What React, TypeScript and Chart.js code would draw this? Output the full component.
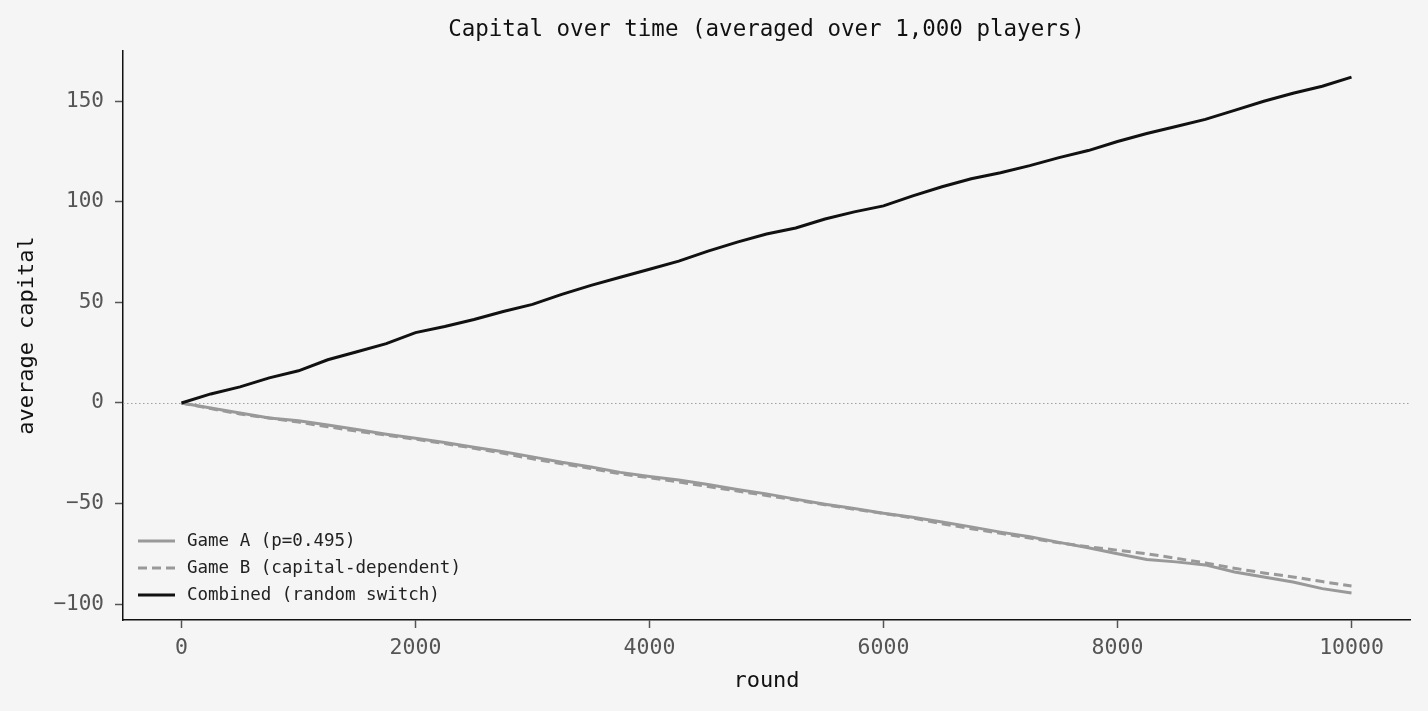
import React, { useEffect, useRef } from "react";
import { Chart, registerables } from "chart.js";

Chart.register(...registerables);

const chartTitle = "Capital over time (averaged over 1,000 players)";
const xTitle = "round";
const yTitle = "average capital";

const rounds = [
  0, 250, 500, 750, 1000, 1250, 1500, 1750, 2000, 2250, 2500, 2750, 3000, 3250,
  3500, 3750, 4000, 4250, 4500, 4750, 5000, 5250, 5500, 5750, 6000, 6250, 6500,
  6750, 7000, 7250, 7500, 7750, 8000, 8250, 8500, 8750, 9000, 9250, 9500, 9750,
  10000,
];

const gameA = [
  0, -2.5, -5.0, -7.5, -8.8, -11.0, -13.2, -15.5, -17.5, -19.6, -22.0, -24.2,
  -26.8, -29.5, -31.8, -34.5, -36.5, -38.3, -40.5, -43.0, -45.2, -47.8, -50.3,
  -52.5, -54.8, -56.8, -59.2, -61.6, -64.2, -66.5, -69.3, -72.0, -75.0, -77.8,
  -79.0, -80.5, -84.0, -86.5, -89.0, -92.3, -94.5,
];

const gameB = [
  0, -2.8, -5.5, -7.5, -9.5, -11.8, -14.0, -16.0, -18.0, -20.2, -22.5, -25.0,
  -27.8, -30.2, -32.6, -35.2, -37.2, -39.3, -41.5, -43.8, -46.0, -48.2, -50.6,
  -52.8, -54.9, -57.2, -60.0, -62.5, -64.8, -67.2, -69.5, -71.5, -73.2, -75.0,
  -77.2, -79.5, -82.2, -84.5, -86.5, -88.8, -91.0,
];

const combined = [
  0, 4.5, 8.0, 12.5, 16.0, 21.5, 25.5, 29.5, 35.0, 38.0, 41.5, 45.5, 49.0, 54.0,
  58.5, 62.5, 66.5, 70.5, 75.5, 80.0, 84.0, 87.0, 91.5, 95.0, 98.0, 103.0, 107.5,
  111.5, 114.5, 118.0, 122.0, 125.5, 130.0, 134.0, 137.5, 141.0, 145.5, 150.0,
  154.0, 157.5, 162.0,
];

const seriesLabels = [
  "Game A (p=0.495)",
  "Game B (capital-dependent)",
  "Combined (random switch)",
];

const xTicks = [0, 2000, 4000, 6000, 8000, 10000];
const yTicks = [-100, -50, 0, 50, 100, 150];

const FONT = "'DejaVu Sans Mono', monospace";

const zeroLinePlugin = {
  id: "zeroLine",
  beforeDatasetsDraw(chart: any) {
    const { ctx, chartArea, scales } = chart;
    const y = Math.round(scales.y.getPixelForValue(0)) + 0.5;
    ctx.save();
    ctx.strokeStyle = "#a0a0a0";
    ctx.lineWidth = 1.2;
    ctx.setLineDash([1.5, 2.5]);
    ctx.beginPath();
    ctx.moveTo(chartArea.left, y);
    ctx.lineTo(chartArea.right, y);
    ctx.stroke();
    ctx.restore();
  },
};

const innerLegendPlugin = {
  id: "innerLegend",
  afterDraw(chart: any) {
    const { ctx, chartArea } = chart;
    const x0 = chartArea.left + 15;
    const lineLen = 37;
    const textX = x0 + lineLen + 12;
    const rowH = 27;
    const n = chart.data.datasets.length;
    const baseY = chartArea.bottom - 25 - (n - 1) * rowH;
    ctx.save();
    ctx.font = `17.5px ${FONT}`;
    ctx.textBaseline = "middle";
    ctx.textAlign = "left";
    chart.data.datasets.forEach((ds: any, i: number) => {
      const y = baseY + i * rowH;
      ctx.strokeStyle = ds.borderColor;
      ctx.lineWidth = ds.borderWidth;
      ctx.setLineDash(ds.borderDash || []);
      ctx.beginPath();
      ctx.moveTo(x0, y);
      ctx.lineTo(x0 + lineLen, y);
      ctx.stroke();
      ctx.setLineDash([]);
      ctx.fillStyle = "#222222";
      ctx.fillText(ds.label, textX, y);
    });
    ctx.restore();
  },
};

export default function App() {
  const canvasRef = useRef<HTMLCanvasElement | null>(null);

  useEffect(() => {
    document.body.style.margin = "0";
    document.body.style.background = "#f5f5f5";
    const canvas = canvasRef.current;
    if (!canvas) return;
    const toPts = (vals: number[]) => rounds.map((r, i) => ({ x: r, y: vals[i] }));
    const chart = new Chart(canvas, {
      type: "line",
      data: {
        datasets: [
          {
            label: seriesLabels[0],
            data: toPts(gameA),
            borderColor: "#999999",
            borderWidth: 3,
            pointRadius: 0,
            tension: 0,
            order: 3,
          },
          {
            label: seriesLabels[1],
            data: toPts(gameB),
            borderColor: "#999999",
            borderWidth: 3,
            borderDash: [9, 5],
            pointRadius: 0,
            tension: 0,
            order: 2,
          },
          {
            label: seriesLabels[2],
            data: toPts(combined),
            borderColor: "#111111",
            borderWidth: 3,
            pointRadius: 0,
            tension: 0,
            order: 1,
          },
        ],
      },
      options: {
        animation: false,
        responsive: true,
        maintainAspectRatio: false,
        layout: { padding: { left: 0, right: 18, top: 0, bottom: 0 } },
        plugins: {
          legend: { display: false },
          tooltip: { enabled: false },
          title: {
            display: true,
            fullSize: false,
            text: chartTitle,
            color: "#111111",
            font: { family: FONT, size: 22.5, weight: "normal" },
            padding: { top: 17, bottom: 7 },
          },
        },
        scales: {
          x: {
            type: "linear",
            min: -500,
            max: 10500,
            afterFit: (s: any) => {
              s.height = 91;
            },
            afterBuildTicks: (s: any) => {
              s.ticks = xTicks.map((v) => ({ value: v }));
            },
            ticks: {
              color: "#555555",
              font: { family: FONT, size: 21.5 },
              padding: 8,
              maxRotation: 0,
              autoSkip: false,
              callback: (v: any) => String(v),
            },
            grid: {
              display: true,
              drawOnChartArea: false,
              drawTicks: true,
              tickLength: 8,
              tickWidth: 1.5,
              tickColor: "#555555",
            },
            border: { display: true, color: "#111111", width: 1.5 },
            title: {
              display: true,
              text: xTitle,
              color: "#111111",
              font: { family: FONT, size: 22 },
              padding: { top: 4, bottom: 17 },
            },
          },
          y: {
            type: "linear",
            min: -107.9,
            max: 175,
            afterFit: (s: any) => {
              s.width = 123;
            },
            afterBuildTicks: (s: any) => {
              s.ticks = yTicks.map((v) => ({ value: v }));
            },
            ticks: {
              color: "#555555",
              font: { family: FONT, size: 21 },
              padding: 11,
              autoSkip: false,
              callback: (v: any) => (v < 0 ? "\u2212" + Math.abs(v) : String(v)),
            },
            grid: {
              display: true,
              drawOnChartArea: false,
              drawTicks: true,
              tickLength: 8,
              tickWidth: 1.5,
              tickColor: "#555555",
            },
            border: { display: true, color: "#111111", width: 1.5 },
            title: {
              display: true,
              text: yTitle,
              color: "#111111",
              font: { family: FONT, size: 22 },
              padding: { top: 14, bottom: 4 },
            },
          },
        },
      },
      plugins: [zeroLinePlugin, innerLegendPlugin],
    });
    return () => chart.destroy();
  }, []);

  return (
    <div
      style={{
        position: "absolute",
        left: 0,
        top: 0,
        width: "1428px",
        height: "711px",
        background: "#f5f5f5",
      }}
    >
      <canvas ref={canvasRef} />
    </div>
  );
}
